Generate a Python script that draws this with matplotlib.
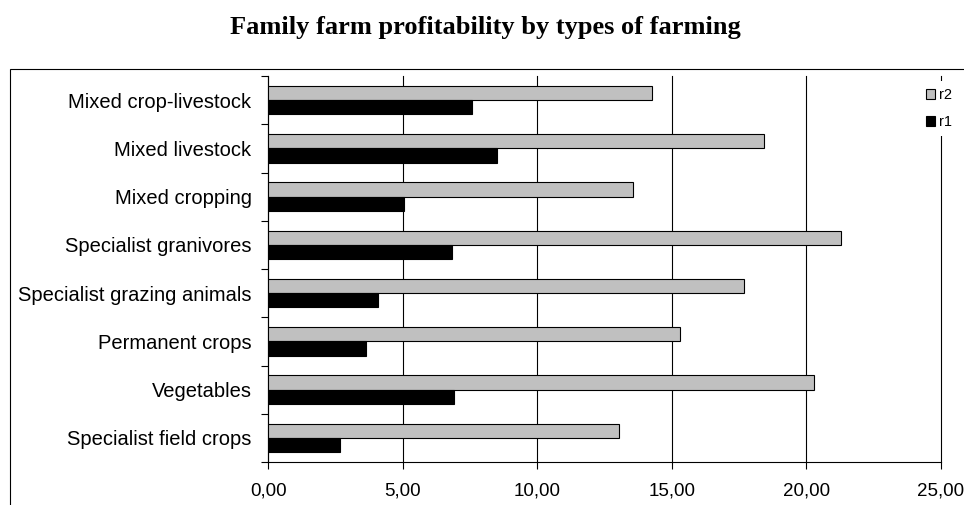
import matplotlib
matplotlib.use("Agg")
import matplotlib.pyplot as plt
import numpy as np
from matplotlib.patches import Rectangle, Patch
from matplotlib.ticker import FuncFormatter

# categories listed bottom -> top
farm_types = ["Specialist field crops", "Vegetables", "Permanent crops",
              "Specialist grazing animals", "Specialist granivores",
              "Mixed cropping", "Mixed livestock", "Mixed crop-livestock"]
r2 = [13.04, 20.28, 15.31, 17.70, 21.28, 13.57, 18.44, 14.25]
r1 = [2.68, 6.92, 3.64, 4.08, 6.82, 5.04, 8.49, 7.59]

plt.rcParams['font.family'] = ['Liberation Sans', 'DejaVu Sans']

fig = plt.figure(figsize=(9.64, 5.05), dpi=100)
ax = fig.add_axes([0.2783, 0.0851, 0.6975, 0.7644])

y = np.arange(len(farm_types))
h = 0.296
ax.barh(y + h / 2, r2, height=h, color='#c0c0c0', edgecolor='black', linewidth=0.8, label='r2', zorder=3)
ax.barh(y - h / 2, r1, height=h, color='black', edgecolor='black', linewidth=0.8, label='r1', zorder=3)

ax.set_xlim(0, 25)
ax.set_ylim(-0.5, len(farm_types) - 0.5)
ax.set_xticks(np.arange(0, 26, 5))
ax.xaxis.set_major_formatter(FuncFormatter(lambda v, p: ("%.2f" % v).replace('.', ',')))
ax.tick_params(axis='x', direction='out', length=5, width=0.8, pad=10, labelsize=13.5)

ax.set_yticks(y)
ax.set_yticklabels(farm_types)
ax.set_yticks(np.arange(-0.5, len(farm_types), 1), minor=True)
ax.tick_params(axis='y', which='major', length=0, pad=12, labelsize=14.5)
ax.tick_params(axis='y', which='minor', direction='out', length=5, width=0.8)

ax.grid(axis='x', color='black', linewidth=0.8, zorder=0)
ax.set_axisbelow(True)
for gl in ax.get_xgridlines():
    gl.set_clip_on(False)
for s in ['top', 'right']:
    ax.spines[s].set_visible(False)
for s in ['left', 'bottom']:
    ax.spines[s].set_linewidth(0.8)

handles = [Patch(facecolor='#c0c0c0', edgecolor='black', linewidth=0.8, label='r2'),
           Patch(facecolor='black', edgecolor='black', linewidth=0.8, label='r1')]
leg = fig.legend(handles=handles, loc='center', bbox_to_anchor=(0.974, 0.785),
                 fontsize=10.5, frameon=True, handlelength=0.6, handleheight=0.6,
                 handletextpad=0.3, labelspacing=0.9, borderpad=0.5)
leg.get_frame().set_edgecolor('none')
leg.get_frame().set_facecolor('white')
leg.get_frame().set_alpha(1)
leg.set_zorder(5)

# outer chart border
fig.patches.append(Rectangle((10 / 964, -0.05), 1.2, 0.8634 + 0.05, transform=fig.transFigure,
                             fill=False, edgecolor='black', linewidth=0.8))

fig.text(0.504, 0.9446, "Family farm profitability by types of farming",
         ha='center', va='center', fontsize=19, fontweight='bold', family='Liberation Serif')

fig.savefig("out.png", dpi=100)
